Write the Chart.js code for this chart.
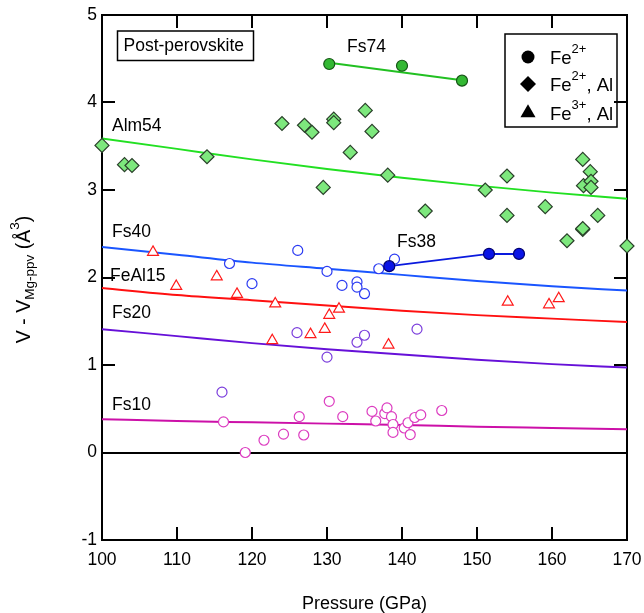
<!DOCTYPE html>
<html>
<head>
<meta charset="utf-8">
<script src="https://cdn.jsdelivr.net/npm/chart.js@4/dist/chart.umd.min.js"></script>
<style>
    html, body { margin: 0; padding: 0; background: #fff; }
</style>
</head>
<body>
<canvas id="chart" width="644" height="613"></canvas>
<script>
// ── 資料 ──────────────────────────────────────────────────────────────────
var xTicks = [100, 110, 120, 130, 140, 150, 160, 170];
var yTicks = [-1, 0, 1, 2, 3, 4, 5];

// fit curves (V - V_Mg-ppv vs pressure)
var fitPressure = [100, 110, 120, 130, 140, 150, 160, 170];
var fitAlm54  = [3.59, 3.47, 3.35, 3.24, 3.14, 3.05, 2.97, 2.90];
var fitFs40   = [2.35, 2.26, 2.17, 2.10, 2.03, 1.96, 1.90, 1.85];
var fitFeAl15 = [1.88, 1.80, 1.74, 1.68, 1.62, 1.57, 1.53, 1.49];
var fitFs20   = [1.41, 1.33, 1.25, 1.18, 1.12, 1.06, 1.01, 0.97];
var fitFs10   = [0.38, 0.36, 0.345, 0.33, 0.315, 0.295, 0.28, 0.265];

var fs74P = [130.3, 140.0, 148.0];
var fs74V = [4.44, 4.42, 4.25];
var fs74LineP = [130.3, 148.0];
var fs74LineV = [4.455, 4.255];

var fs38P = [138.3, 151.6, 155.6];
var fs38V = [2.13, 2.27, 2.27];

var alm54P = [100.0, 103.0, 104.0, 114.0, 124.0, 127.0, 128.0, 129.5, 130.9, 130.9,
              133.1, 135.1, 136.0, 138.1, 143.1, 151.1, 154.0, 154.0, 159.1, 162.0,
              164.1, 164.2, 164.1, 164.1, 165.1, 165.2, 165.2, 166.1, 170.0];
var alm54V = [3.51, 3.29, 3.28, 3.38, 3.76, 3.74, 3.66, 3.03, 3.81, 3.77,
              3.43, 3.91, 3.67, 3.17, 2.76, 3.00, 3.16, 2.71, 2.81, 2.42,
              3.35, 3.05, 2.55, 2.56, 3.21, 3.10, 3.03, 2.71, 2.36];

var feAl15P = [106.8, 109.9, 115.3, 118.0, 123.1, 122.7, 127.8, 129.7, 130.3, 131.6,
               138.2, 154.1, 159.6, 160.9];
var feAl15V = [2.29, 1.90, 2.01, 1.81, 1.70, 1.28, 1.35, 1.41, 1.57, 1.64,
               1.23, 1.72, 1.69, 1.76];

var fs40P = [117.0, 120.0, 126.1, 130.0, 132.0, 134.0, 134.0, 135.0, 136.9, 139.0];
var fs40V = [2.16, 1.93, 2.31, 2.07, 1.91, 1.95, 1.89, 1.815, 2.10, 2.21];

var fs20P = [116.0, 126.0, 130.0, 134.0, 135.0, 142.0];
var fs20V = [0.69, 1.37, 1.09, 1.26, 1.34, 1.41];

var fs10P = [116.2, 119.1, 121.6, 124.2, 126.3, 126.9, 130.3, 132.1, 136.0, 136.5,
             137.7, 138.0, 138.6, 138.8, 138.8, 140.3, 140.8, 141.1, 141.7, 142.5, 145.3];
var fs10V = [0.35, 0.00, 0.14, 0.21, 0.41, 0.20, 0.585, 0.41, 0.47, 0.36,
             0.445, 0.51, 0.41, 0.32, 0.23, 0.28, 0.34, 0.205, 0.40, 0.43, 0.48];

// text labels: [text, pressure, value]
var curveLabels = [
    ['Alm54',  101.33, 3.73],
    ['Fs40',   101.33, 2.52],
    ['FeAl15', 101.07, 2.02],
    ['Fs20',   101.33, 1.59],
    ['Fs10',   101.33, 0.54],
    ['Fs74',   132.67, 4.63],
    ['Fs38',   139.33, 2.40]
];

(function () {
    'use strict';

    var FONT = '"Liberation Sans", Arial, sans-serif';
    var TICK_LEN = 13;

    // ── 工具函式 ─────────────────────────────────────────────────────────────
    function pts(xs, ys) {
        return xs.map(function (x, i) { return { x: x, y: ys[i] }; });
    }

    function curve(xs, ys, color, smooth) {
        return {
            data: pts(xs, ys),
            showLine: true,
            borderColor: color,
            borderWidth: 2,
            pointRadius: 0,
            cubicInterpolationMode: smooth ? 'monotone' : 'default',
            order: 10
        };
    }

    function markers(xs, ys, style, radius, fill, stroke) {
        return {
            data: pts(xs, ys),
            showLine: false,
            pointStyle: style,
            pointRadius: radius,
            pointBackgroundColor: fill,
            pointBorderColor: stroke,
            pointBorderWidth: 1.2,
            clip: false,
            order: 1
        };
    }

    function shape(ctx, style, x, y, r) {
        ctx.beginPath();
        if (style === 'circle') {
            ctx.arc(x, y, r, 0, Math.PI * 2);
        } else if (style === 'diamond') {
            ctx.moveTo(x, y - r); ctx.lineTo(x + r, y);
            ctx.lineTo(x, y + r); ctx.lineTo(x - r, y);
        } else {
            ctx.moveTo(x, y - r);
            ctx.lineTo(x + r * 0.866, y + r * 0.5);
            ctx.lineTo(x - r * 0.866, y + r * 0.5);
        }
        ctx.closePath();
        ctx.fill();
    }

    // "Fe" + 上標 + 尾字
    function supText(ctx, x, y, base, sup, tail) {
        ctx.font = '18.5px ' + FONT;
        ctx.fillText(base, x, y);
        x += ctx.measureText(base).width;
        ctx.font = '13px ' + FONT;
        ctx.fillText(sup, x, y - 10);
        x += ctx.measureText(sup).width;
        if (tail) {
            ctx.font = '18.5px ' + FONT;
            ctx.fillText(tail, x, y);
        }
    }

    function setTicks(list) {
        return function (s) { s.ticks = list.map(function (v) { return { value: v }; }); };
    }

    function frameGrid(onArea, color) {
        return {
            display: true,
            drawOnChartArea: onArea,
            drawTicks: true,
            tickLength: -TICK_LEN,
            tickColor: '#000',
            tickWidth: 2,
            lineWidth: 2,
            color: color || '#000'
        };
    }

    var BORDER = { display: true, color: '#000', width: 2 };

    // ── 刻度（補畫）、標註、圖例、y 軸標題 ─────────────────────────────────
    var decor = {
        id: 'decor',
        afterDraw: function (chart) {
            var ctx = chart.ctx, a = chart.chartArea;
            var xs = chart.scales.x, ys = chart.scales.y;
            var i, p;
            ctx.save();
            ctx.fillStyle = '#000';

            for (i = 0; i < xTicks.length; i++) {
                p = Math.round(xs.getPixelForValue(xTicks[i]));
                ctx.fillRect(p - 1, a.bottom - TICK_LEN, 2, TICK_LEN);
                ctx.fillRect(p - 1, a.top, 2, TICK_LEN);
            }
            for (i = 0; i < yTicks.length; i++) {
                p = Math.round(ys.getPixelForValue(yTicks[i]));
                ctx.fillRect(a.left, p - 1, TICK_LEN, 2);
                ctx.fillRect(a.right - TICK_LEN, p - 1, TICK_LEN, 2);
            }

            ctx.textBaseline = 'middle';
            ctx.textAlign = 'left';

            // 曲線名稱
            ctx.font = '17.5px ' + FONT;
            curveLabels.forEach(function (l) {
                ctx.fillText(l[0], xs.getPixelForValue(l[1]), ys.getPixelForValue(l[2]));
            });

            // Post-perovskite 方框
            ctx.strokeStyle = '#000';
            ctx.lineWidth = 1.5;
            ctx.strokeRect(a.left + 15.5, a.top + 16, 136, 29.5);
            ctx.fillText('Post-perovskite', a.left + 21.5, a.top + 31);

            // 圖例
            var lx = a.right - 122, ly = a.top + 19;
            ctx.strokeRect(lx, ly, 112, 93);
            var rows = [
                ['circle',   6.5, 42, '2+', ''],
                ['diamond',  8,   69, '2+', ', Al'],
                ['triangle', 8.7, 98, '3+', ', Al']
            ];
            rows.forEach(function (r) {
                var ry = a.top + r[2];
                shape(ctx, r[0], lx + 23, ry, r[1]);
                supText(ctx, lx + 45, ry + 2, 'Fe', r[3], r[4]);
            });

            // y 軸標題（旋轉）
            ctx.translate(25, (a.top + a.bottom) / 2 + 2);
            ctx.rotate(-Math.PI / 2);
            var parts = [['V - V', 19.5, 0], ['Mg-ppv', 13.5, 5], [' (\u00c5', 19.5, 0], ['3', 13.5, -10], [')', 19.5, 0]];
            var total = 0;
            parts.forEach(function (q) { ctx.font = q[1] + 'px ' + FONT; total += ctx.measureText(q[0]).width; });
            var cx = -total / 2;
            parts.forEach(function (q) {
                ctx.font = q[1] + 'px ' + FONT;
                ctx.fillText(q[0], cx, q[2]);
                cx += ctx.measureText(q[0]).width;
            });
            ctx.restore();
        }
    };

    // ── 圖表 ────────────────────────────────────────────────────────────────
    var datasets = [
        curve(fitPressure, fitAlm54,  '#22e022', true),
        curve(fitPressure, fitFs40,   '#1a55ff', true),
        curve(fitPressure, fitFeAl15, '#ff1010', true),
        curve(fitPressure, fitFs20,   '#6610d8', true),
        curve(fitPressure, fitFs10,   '#cc10a8', true),
        curve(fs74LineP, fs74LineV, '#22c022', false),
        curve(fs38P, fs38V, '#0a1ade', false),
        markers(alm54P,  alm54V,  'rectRot',  7,   '#7de87d', '#2a402a'),
        markers(fs74P,   fs74V,   'circle',   5.5, '#33b833', '#155515'),
        markers(fs38P,   fs38V,   'circle',   5.5, '#0a14e6', '#000070'),
        markers(fs40P,   fs40V,   'circle',   5,   '#ffffff', '#2b3bf2'),
        markers(fs20P,   fs20V,   'circle',   5,   '#ffffff', '#7a3ddc'),
        markers(fs10P,   fs10V,   'circle',   5,   '#ffffff', '#dc3cc0'),
        markers(feAl15P, feAl15V, 'triangle', 6.3, '#ffffff', '#ff1a1a')
    ];

    new Chart(document.getElementById('chart').getContext('2d'), {
        type: 'scatter',
        data: { datasets: datasets },
        options: {
            responsive: false,
            animation: false,
            devicePixelRatio: 1,
            layout: { padding: { top: 15, right: 17, left: 0, bottom: 0 } },
            plugins: { legend: { display: false }, tooltip: { enabled: false } },
            scales: {
                x: {
                    type: 'linear', position: 'bottom', min: 100, max: 170,
                    afterFit: function (s) { s.height = 73; s.paddingLeft = 0; s.paddingRight = 0; },
                    afterBuildTicks: setTicks(xTicks),
                    grid: frameGrid(false),
                    border: BORDER,
                    ticks: { color: '#000', font: { family: FONT, size: 17.5 }, padding: 23 },
                    title: {
                        display: true, text: 'Pressure (GPa)', color: '#000',
                        font: { family: FONT, size: 18, lineHeight: 1 },
                        padding: { top: 0, bottom: 0 }
                    }
                },
                x2: {
                    type: 'linear', position: 'top', min: 100, max: 170,
                    afterFit: function (s) { s.height = 0; s.paddingLeft = 0; s.paddingRight = 0; },
                    afterBuildTicks: setTicks(xTicks),
                    grid: frameGrid(false),
                    border: BORDER,
                    ticks: { display: false }
                },
                y: {
                    type: 'linear', position: 'left', min: -1, max: 5,
                    afterFit: function (s) { s.width = 102; s.paddingTop = 0; s.paddingBottom = 0; },
                    afterBuildTicks: setTicks(yTicks),
                    // 只在 0 畫一條水平線
                    grid: frameGrid(true, function (c) {
                        return c.tick && c.tick.value === 0 ? '#000' : 'rgba(0,0,0,0)';
                    }),
                    border: BORDER,
                    ticks: { color: '#000', font: { family: FONT, size: 17.5 }, padding: 18 }
                },
                y2: {
                    type: 'linear', position: 'right', min: -1, max: 5,
                    afterFit: function (s) { s.width = 0; s.paddingTop = 0; s.paddingBottom = 0; },
                    afterBuildTicks: setTicks(yTicks),
                    grid: frameGrid(false),
                    border: BORDER,
                    ticks: { display: false }
                }
            }
        },
        plugins: [decor]
    });
})();
</script>
</body>
</html>
